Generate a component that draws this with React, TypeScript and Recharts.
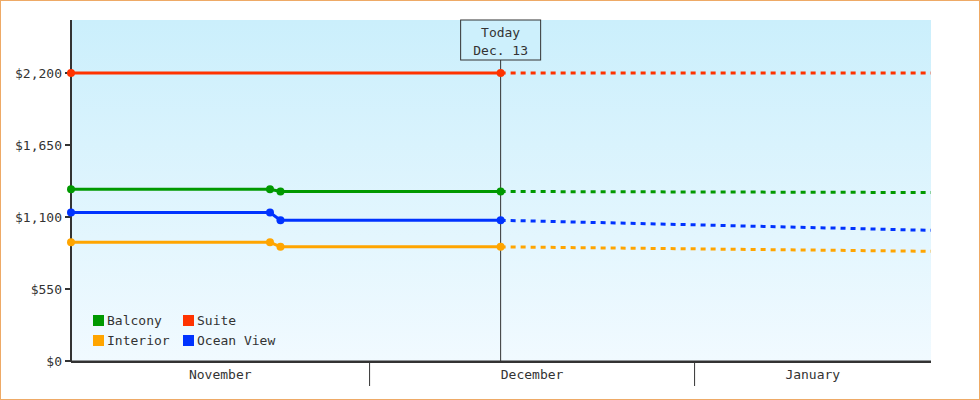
import React from 'react'
import { LineChart, Line, XAxis, YAxis, CartesianGrid, ReferenceLine } from 'recharts'

// days counted from Nov 1 (Nov 1 = 0, Dec 1 = 30, Jan 1 = 61)
const historyDays = [1.52, 20.5, 21.5, 42.5]
const suiteDays = [1.52, 42.5]
const forecastDays = [42.5, 83.55]

const balconyHistory = [1312, 1312, 1295, 1295]
const suiteHistory = [2200, 2200]
const interiorHistory = [907, 907, 872, 872]
const oceanHistory = [1134, 1134, 1075, 1075]

const balconyForecast = [1295, 1287]
const suiteForecast = [2200, 2200]
const interiorForecast = [872, 838]
const oceanForecast = [1075, 998]

const priceTicks = [0, 550, 1100, 1650, 2200]
const months = ['November', 'December', 'January']
const monthEdges = [1.52, 30, 61, 83.55]
const todayDay = 42.5
const todayText = ['Today', 'Dec. 13']

const FONT = 'DejaVu Sans Mono'

const series = [
  { name: 'Balcony', color: '#009900', days: historyDays, history: balconyHistory, forecast: balconyForecast },
  { name: 'Suite', color: '#ff3300', days: suiteDays, history: suiteHistory, forecast: suiteForecast },
  { name: 'Interior', color: '#ffa500', days: historyDays, history: interiorHistory, forecast: interiorForecast },
  { name: 'Ocean View', color: '#0033ff', days: historyDays, history: oceanHistory, forecast: oceanForecast },
]

const toRows = (days: number[], vals: number[]) => days.map((d, i) => ({ day: d, v: vals[i] }))

const monthCenters = months.map((_, i) => (monthEdges[i] + monthEdges[i + 1]) / 2)
const monthBoundaries = monthEdges.slice(1, -1)
const monthTicks = [...monthCenters, ...monthBoundaries].sort((a, b) => a - b)

function MonthTick(props: any) {
  const { x, y, payload } = props
  const idx = monthCenters.findIndex((c) => Math.abs(c - payload.value) < 0.001)
  if (idx >= 0) {
    return (
      <text x={x} y={y + 17} textAnchor="middle" fill="#333" fontSize={13} fontFamily={FONT}>
        {months[idx]}
      </text>
    )
  }
  return <line x1={x} x2={x} y1={y} y2={y + 24} stroke="#333" strokeWidth={1} />
}

function TodayLabel(props: any) {
  const vb = props.viewBox || {}
  const x = vb.x
  const y = vb.y
  return (
    <g>
      <rect x={x - 40} y={y} width={80} height={40} fill="#cdf0fc" stroke="#333" strokeWidth={1} />
      {todayText.map((t, i) => (
        <text key={t} x={x} y={y + 17 + i * 18} textAnchor="middle" fill="#333" fontSize={13} fontFamily={FONT}>
          {t}
        </text>
      ))}
    </g>
  )
}

export default function App() {
  return (
    <div
      style={{
        position: 'absolute',
        left: 0,
        top: 0,
        width: 980,
        height: 400,
        boxSizing: 'border-box',
        border: '1px solid #eeaa66',
        background: '#fff',
      }}
    >
      <LineChart width={978} height={398} margin={{ top: 19, right: 48, bottom: 13, left: 0 }}>
        <defs>
          <linearGradient id="plotBg" x1="0" y1="0" x2="0" y2="1">
            <stop offset="0" stopColor="#cbeffc" />
            <stop offset="1" stopColor="#f1faff" />
          </linearGradient>
        </defs>
        <CartesianGrid xAxisId="x" horizontal={false} vertical={false} fill="url(#plotBg)" />
        <XAxis
          xAxisId="x"
          dataKey="day"
          type="number"
          domain={[monthEdges[0], monthEdges[monthEdges.length - 1]]}
          ticks={monthTicks}
          interval={0}
          tickLine={false}
          tickSize={0}
          tickMargin={0}
          tick={(p: any) => <MonthTick {...p} />}
          axisLine={{ stroke: '#333', strokeWidth: 2 }}
          height={24}
        />
        <XAxis
          xAxisId="base"
          type="number"
          domain={[monthEdges[0], monthEdges[monthEdges.length - 1]]}
          tick={false}
          tickLine={false}
          axisLine={{ stroke: '#333', strokeWidth: 1 }}
          height={1}
        />
        <YAxis
          type="number"
          domain={[0, 2605]}
          ticks={priceTicks}
          interval={0}
          width={70}
          tickSize={6}
          tickMargin={3}
          tickLine={{ stroke: '#333', strokeWidth: 2 }}
          axisLine={{ stroke: '#333', strokeWidth: 2 }}
          tick={{ fill: '#333', fontSize: 13, fontFamily: FONT }}
          tickFormatter={(v: number) => '$' + v.toLocaleString('en-US')}
        />
        <ReferenceLine
          xAxisId="x"
          x={todayDay}
          stroke="#333"
          strokeWidth={1}
          label={(p: any) => <TodayLabel {...p} />}
        />
        {series.map((s) => (
          <Line
            key={s.name + '-f'}
            xAxisId="x"
            data={toRows(forecastDays, s.forecast)}
            dataKey="v"
            type="linear"
            stroke={s.color}
            strokeWidth={3}
            strokeDasharray="5 5"
            dot={false}
            activeDot={false}
            isAnimationActive={false}
          />
        ))}
        {series.map((s) => (
          <Line
            key={s.name}
            xAxisId="x"
            data={toRows(s.days, s.history)}
            dataKey="v"
            name={s.name}
            type="linear"
            stroke={s.color}
            strokeWidth={3}
            dot={{ r: 4, fill: s.color, stroke: 'none', strokeWidth: 0 }}
            activeDot={false}
            isAnimationActive={false}
          />
        ))}
      </LineChart>
      <div
        style={{
          position: 'absolute',
          left: 92,
          top: 314,
          display: 'grid',
          gridTemplateColumns: '90px 110px',
          gridAutoRows: '20px',
          fontFamily: FONT,
          fontSize: 13,
          color: '#333',
        }}
      >
        {series.map((s) => (
          <div key={s.name} style={{ display: 'flex', alignItems: 'flex-start', lineHeight: '11px', height: 11 }}>
            <span style={{ width: 11, height: 11, background: s.color, marginRight: 3, flex: 'none' }} />
            <span style={{ whiteSpace: 'nowrap' }}>{s.name}</span>
          </div>
        ))}
      </div>
    </div>
  )
}
